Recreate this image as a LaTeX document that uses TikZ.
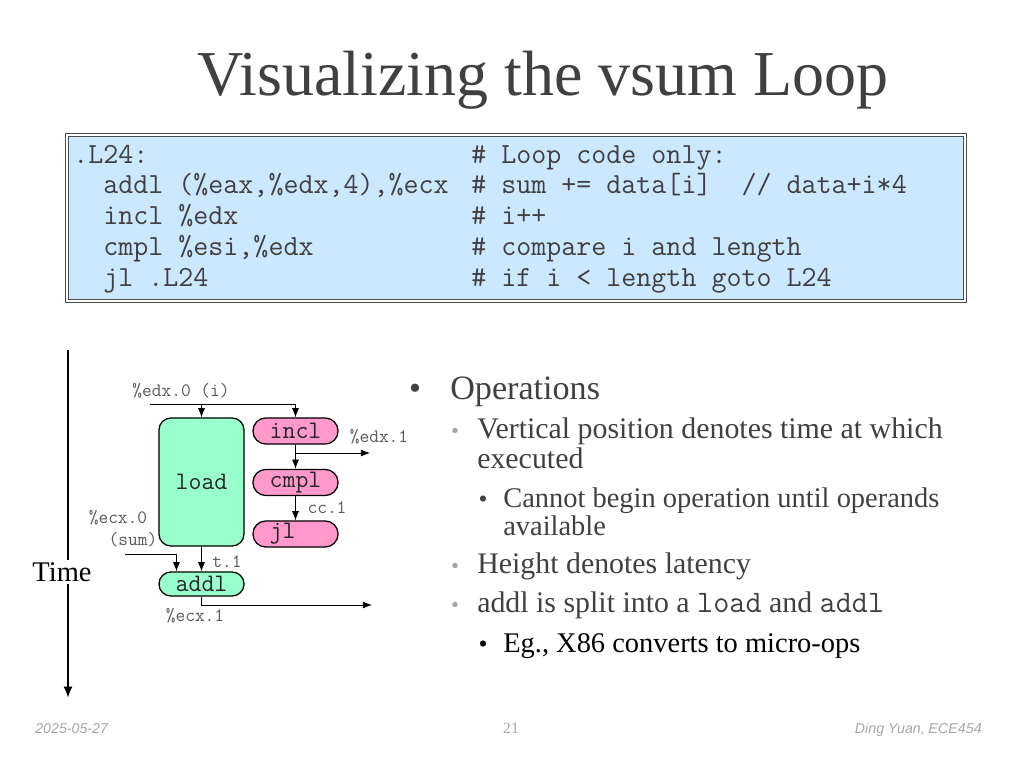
\documentclass[tikz,border=0pt]{standalone}
\usepackage{fontspec}
\setmainfont{Liberation Serif}
\setsansfont{Liberation Sans}
\usepackage{tikz}
\usetikzlibrary{arrows.meta}
\definecolor{slidegray}{RGB}{64,64,64}
\definecolor{dotgray}{RGB}{166,166,166}
\definecolor{wiregray}{RGB}{89,89,89}
\definecolor{codeblue}{RGB}{204,232,255}
\definecolor{opgreen}{RGB}{153,255,204}
\definecolor{oppink}{RGB}{255,153,204}
\tikzstyle{bigop} = [rectangle, rounded corners=8.4pt, minimum width=59.8pt, minimum height=90pt, inner sep=0pt, draw=black, line width=0.9pt, fill=opgreen, text=black!85, font=\fontsize{17.7}{20}\ttfamily]
\tikzstyle{pinkop} = [rectangle, rounded corners=9pt, minimum width=59.8pt, minimum height=18.3pt, inner sep=0pt, draw=black, line width=0.9pt, fill=oppink, text=black!85, font=\fontsize{17.7}{20}\ttfamily]
\tikzstyle{greenop} = [pinkop, rounded corners=8.4pt, minimum height=16.9pt, fill=opgreen]
\tikzstyle{reg} = [inner sep=0pt, text=wiregray, font=\fontsize{13.3}{15}\ttfamily]
\tikzstyle{arrow} = [line width=0.6pt, -{Latex[length=6.5pt,width=5pt]}]
\tikzstyle{timearrow} = [line width=2pt, -{Latex[length=8pt,width=6.5pt]}]
\tikzstyle{lvlone} = [anchor=base west, inner sep=0pt, text=slidegray, font=\fontsize{24}{28}\selectfont]
\tikzstyle{lvltwo} = [anchor=base west, inner sep=0pt, text=slidegray, font=\fontsize{21}{25}\selectfont]
\tikzstyle{lvlthree} = [anchor=base west, inner sep=0pt, text=slidegray, font=\fontsize{20}{24}\selectfont]
\tikzstyle{dotone} = [anchor=base, inner sep=0pt, text=slidegray, font=\fontsize{24}{28}\selectfont]
\tikzstyle{dottwo} = [anchor=base, inner sep=0pt, text=dotgray, font=\fontsize{16}{20}\selectfont]
\tikzstyle{dotthree} = [anchor=base, inner sep=0pt, text=slidegray, font=\fontsize{18}{22}\selectfont]
\tikzstyle{footer} = [inner sep=0pt, text=dotgray, font=\fontsize{10}{12}\sffamily\itshape]

\begin{document}
\begin{tikzpicture}[x=0.703pt, y=-0.703pt, node distance=36.2pt]
	\useasboundingbox (0,0) rectangle (1024,768);
	% title
	\node (title) [anchor=base west, inner sep=0pt, text=slidegray, font=\fontsize{45}{50}\selectfont] at (197,95) {Visualizing the vsum Loop};
	
	% code listing
	\node (codebox) [rectangle, minimum width=631pt, minimum height=116.7pt, draw=black!70, line width=0.9pt, double=white, double distance=1.3pt, fill=codeblue] at (516,218) {};
	\node (code) [anchor=base west, inner sep=0pt, text=slidegray, font=\fontsize{20.5}{21.7}\ttfamily] at (73,163) {\begin{tabular}[t]{@{}p{279.8pt}@{}l@{}}
		.L24: & \# Loop code only:\\
		\ \ addl (\%eax,\%edx,4),\%ecx & \# sum += data[i]\ \ // data+i*4\\
		\ \ incl \%edx & \# i++\\
		\ \ cmpl \%esi,\%edx & \# compare i and length\\
		\ \ jl .L24 & \# if i < length goto L24
	\end{tabular}};
	
	% time axis
	\coordinate (tstart) at (68,350);
	\coordinate (tend) at (68,698);
	\draw [timearrow] (tstart) -- (tend);
	\node (time) [fill=white, inner sep=2pt, font=\fontsize{20}{24}\selectfont] at (62,572) {Time};
	
	% operations
	\node (load) [bigop] at (201.5,482) {load};
	\node (incl) [pinkop] at (295.5,431) {incl};
	\node (cmpl) [pinkop, below of=incl] {cmpl};
	\node (jl) [pinkop, below of=cmpl] {jl\phantom{xx}};
	\node (addl) [greenop] at (201.5,584) {addl};
	
	\node (edx0) [reg] at (181,391) {\%edx.0 (i)};
	\node (edx1) [reg] at (379,437) {\%edx.1};
	\node (cc1) [reg] at (327,508) {cc.1};
	\node (ecx0) [reg] at (118,518) {\%ecx.0};
	\node (sum) [reg] at (133,540) {(sum)};
	\node (t1) [reg] at (227,562) {t.1};
	\node (ecx1) [reg] at (195,616) {\%ecx.1};
	
	\coordinate (edxin) at (150,404);
	\coordinate (edxout) at (370,453);
	\coordinate (ecxin) at (125,554);
	\coordinate (ecxout) at (372,605);
	
	\draw [arrow] (edxin) -| (incl.north);
	\draw [arrow] (load.north |- edxin) -- (load.north);
	\draw [arrow] (incl) -- (cmpl);
	\draw [arrow] (incl.south |- edxout) -- (edxout);
	\draw [arrow] (cmpl) -- (jl);
	\draw [arrow] (load) -- (addl);
	\draw [arrow] (ecxin) -| ([xshift=-17.6pt]addl.north);
	\draw [arrow] (addl.south) |- (ecxout);
	
	% bullets
	\node (b1) [dotone] at (415,399) {•};
	\node (ops) [lvlone] at (450,399) {Operations};
	\node (b2) [dottwo] at (455,438) {•};
	\node (vert) [lvltwo] at (477,438) {Vertical position denotes time at which};
	\node (vert2) [lvltwo] at (477,468) {executed};
	\node (b3) [dotthree] at (483,507) {•};
	\node (cannot) [lvlthree] at (503,507) {Cannot begin operation until operands};
	\node (cannot2) [lvlthree] at (503,535) {available};
	\node (b4) [dottwo] at (455,573) {•};
	\node (height) [lvltwo] at (477,573) {Height denotes latency};
	\node (b5) [dottwo] at (455,612) {•};
	\node (split) [lvltwo] at (477,612) {addl is split into a {\fontsize{22}{25}\ttfamily load} and {\fontsize{22}{25}\ttfamily addl}};
	\node (b6) [dotthree, text=black] at (483,652) {•};
	\node (eg) [lvlthree, text=black] at (503,652) {Eg., X86 converts to micro-ops};
	
	% footer
	\node (date) [footer, anchor=base west] at (35,733) {2025-05-27};
	\node (page) [footer, anchor=base, font=\fontsize{11}{13}\selectfont] at (511,733) {21};
	\node (author) [footer, anchor=base east] at (982,733) {Ding Yuan, ECE454};
\end{tikzpicture}
\end{document}
